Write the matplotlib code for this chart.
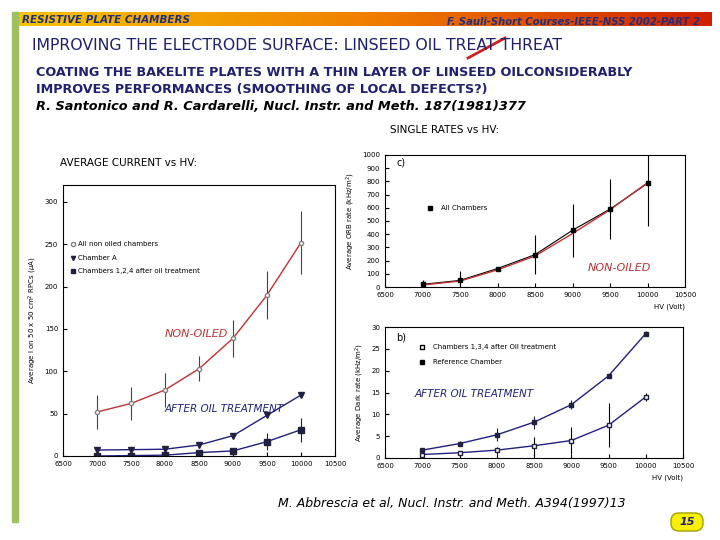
import matplotlib
matplotlib.use("Agg")
import matplotlib.pyplot as plt
import numpy as np
from matplotlib.patches import FancyBboxPatch, Rectangle

hv = [7000, 7500, 8000, 8500, 9000, 9500, 10000]
cur_nonoiled = [52, 62, 78, 103, 139, 190, 252]
cur_nonoiled_err = [20, 20, 20, 15, 22, 28, 37]
cur_chamberA = [7, 7.5, 8, 13, 24, 48, 72]
cur_oiled = [0, 0.5, 1, 4, 6, 17, 31]
cur_oiled_err = [0, 0, 0, 0, 0, 10, 14]
rate_all = [20, 50, 140, 245, 430, 590, 785]
rate_all_err = [30, 70, 0, 150, 200, 230, 320]
rate_fit = [15, 45, 130, 235, 405, 585, 790]
rate_ref = [1.8, 3.3, 5.3, 8.2, 12.2, 18.8, 28.5]
rate_ref_err = [0.5, 0.5, 1.5, 1.5, 1.0, 0.5, 0.5]
rate_oiled = [0.8, 1.2, 1.8, 2.8, 4.0, 7.5, 14.0]
rate_oiled_err = [0.3, 0.5, 0.8, 2.0, 3.0, 5.0, 1.0]

fig = plt.figure(figsize=(7.2, 5.4), dpi=100)
W, H = 720, 540
def box(x0, y0, x1, y1):
    return [x0 / W, 1 - y1 / H, (x1 - x0) / W, (y1 - y0) / H]

bg = fig.add_axes([0, 0, 1, 1]); bg.set_xlim(0, W); bg.set_ylim(H, 0); bg.axis("off")
grad = np.linspace(0, 1, 256)[None, :]
from matplotlib.colors import LinearSegmentedColormap
cm = LinearSegmentedColormap.from_list("g", ["#f5c400", "#f08000", "#d02000"])
bg.imshow(grad, extent=[14, 712, 26, 12], cmap=cm, aspect="auto")
bg.add_patch(Rectangle((12, 12), 6, 510, color="#9ec060"))
bg.text(22, 20, "RESISTIVE PLATE CHAMBERS", color="#203080", fontsize=7.5, style="italic", weight="bold", va="center")
bg.text(700, 22, "F. Sauli-Short Courses-IEEE-NSS 2002-PART 2", color="#203080", fontsize=7.2, style="italic", weight="bold", va="center", ha="right")
bg.text(32, 45, "IMPROVING THE ELECTRODE SURFACE: LINSEED OIL TREAT THREAT", color="#202070", fontsize=11.3, va="center")
bg.plot([468, 505], [58, 38], color="#d02020", lw=2)
bg.text(36, 72, "COATING THE BAKELITE PLATES WITH A THIN LAYER OF LINSEED OILCONSIDERABLY", color="#202070", fontsize=9.2, weight="bold", va="center")
bg.text(36, 89, "IMPROVES PERFORMANCES (SMOOTHING OF LOCAL DEFECTS?)", color="#202070", fontsize=9.2, weight="bold", va="center")
bg.text(36, 107, "R. Santonico and R. Cardarelli, Nucl. Instr. and Meth. 187(1981)377", color="black", fontsize=9.3, style="italic", weight="bold", va="center")
bg.text(390, 130, "SINGLE RATES vs HV:", fontsize=7.5, va="center")
bg.text(60, 163, "AVERAGE CURRENT vs HV:", fontsize=7.5, va="center")
bg.text(278, 503, "M. Abbrescia et al, Nucl. Instr. and Meth. A394(1997)13", fontsize=9, style="italic", va="center")
bg.add_patch(FancyBboxPatch((671, 513), 32, 18, boxstyle="round,pad=0,rounding_size=8", fc="#f8f000", ec="#a0a000"))
bg.text(687, 522, "15", fontsize=8, style="italic", weight="bold", color="#202070", ha="center", va="center")

def style(ax, xl=True):
    ax.set_xlim(6500, 10500)
    ax.set_xticks(range(6500, 11000, 500))
    ax.tick_params(labelsize=5, direction="in", length=3)
    for s in ax.spines.values():
        s.set_linewidth(0.8)

red = "#c03030"; blue = "#202080"
ax1 = fig.add_axes(box(63, 185, 335, 456))
ax1.errorbar(hv, cur_nonoiled, yerr=cur_nonoiled_err, fmt="o", mfc="white", mec="gray", ms=3, ecolor="#444", elinewidth=0.8)
ax1.plot(hv, cur_nonoiled, color=red, lw=1)
ax1.plot(hv, cur_chamberA, color=blue, lw=1, marker="v", ms=4, mfc="#202040", mec="#202040")
ax1.errorbar(hv, cur_oiled, yerr=cur_oiled_err, fmt="s", color="#202040", ms=4, elinewidth=0.8)
ax1.plot(hv, cur_oiled, color=blue, lw=1)
ax1.set_ylim(0, 320); ax1.set_yticks(range(0, 301, 50))
style(ax1)
ax1.set_ylabel("Average I on 50 x 50 cm$^2$ RPCs ($\\mu$A)", fontsize=5)
ax1.text(6720, 250, "All non oiled chambers", fontsize=5, va="center")
ax1.plot(6640, 250, "o", mfc="white", mec="gray", ms=3)
ax1.plot(6640, 234, "v", color="#202040", ms=3); ax1.text(6720, 234, "Chamber A", fontsize=5, va="center")
ax1.plot(6640, 218, "s", color="#202040", ms=3); ax1.text(6720, 218, "Chambers 1,2,4 after oil treatment", fontsize=5, va="center")
ax1.text(8000, 140, "NON-OILED", color=red, fontsize=8, style="italic")
ax1.text(8000, 52, "AFTER OIL TREATMENT", color=blue, fontsize=7.5, style="italic")

ax2 = fig.add_axes(box(385, 155, 685, 287))
ax2.errorbar(hv, rate_all, yerr=rate_all_err, fmt="s", color="black", ms=3, elinewidth=0.8)
ax2.plot(hv, rate_all, color="black", lw=0.8)
ax2.plot(hv, rate_fit, color=red, lw=1)
ax2.set_ylim(0, 1000); ax2.set_yticks(range(0, 1001, 100))
style(ax2)
ax2.set_ylabel("Average ORB rate (kHz/m$^2$)", fontsize=5)
ax2.set_xlabel("HV (Volt)", fontsize=5, loc="right")
ax2.text(6650, 920, "c)", fontsize=7)
ax2.plot(7100, 600, "s", color="black", ms=3); ax2.text(7250, 600, "All Chambers", fontsize=5, va="center")
ax2.text(9200, 120, "NON-OILED", color=red, fontsize=8, style="italic")

ax3 = fig.add_axes(box(385, 327, 683, 458))
ax3.errorbar(hv, rate_ref, yerr=rate_ref_err, fmt="s", color="#202040", ms=3, elinewidth=0.8)
ax3.plot(hv, rate_ref, color=blue, lw=1)
ax3.errorbar(hv, rate_oiled, yerr=rate_oiled_err, fmt="s", mfc="white", mec="#202040", ecolor="black", ms=3, elinewidth=0.8)
ax3.plot(hv, rate_oiled, color=blue, lw=1)
ax3.set_ylim(0, 30); ax3.set_yticks(range(0, 31, 5))
style(ax3)
ax3.set_ylabel("Average Dark rate (kHz/m$^2$)", fontsize=5)
ax3.set_xlabel("HV (Volt)", fontsize=5, loc="right")
ax3.text(6650, 27, "b)", fontsize=7)
ax3.plot(7000, 25.5, "s", mfc="white", mec="black", ms=3); ax3.text(7150, 25.5, "Chambers 1,3,4 after Oil treatment", fontsize=5, va="center")
ax3.plot(7000, 22, "s", color="black", ms=3); ax3.text(7150, 22, "Reference Chamber", fontsize=5, va="center")
ax3.text(6900, 14, "AFTER OIL TREATMENT", color=blue, fontsize=7.5, style="italic")

fig.savefig("out.png", dpi=100)
